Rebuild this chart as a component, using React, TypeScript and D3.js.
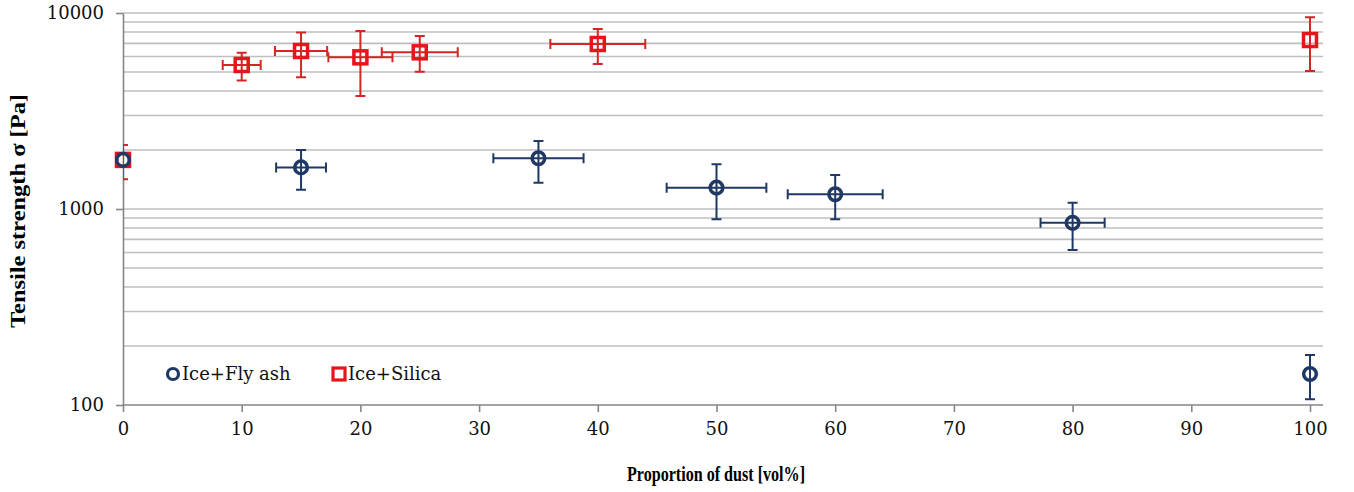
import React, { useEffect, useRef } from 'react';
import * as d3 from 'd3';

// values
const flyAshX = [0, 15, 35, 50, 60, 80, 100];
const flyAshY = [1780, 1630, 1815, 1285, 1190, 850, 144];
const flyAshXErr = [0, 2.1, 3.8, 4.2, 4.0, 2.7, 0];
const flyAshYLow = [null, 1253, 1362, 886, 886, 618, 107];
const flyAshYHigh = [null, 2000, 2223, 1690, 1490, 1077, 180];

const silicaX = [0, 10, 15, 20, 25, 40, 100];
const silicaY = [1780, 5430, 6400, 5940, 6300, 6950, 7280];
const silicaXErr = [0, 1.6, 2.2, 2.7, 3.2, 4.0, 0];
const silicaYLow = [1420, 4520, 4700, 3770, 5020, 5490, 5060];
const silicaYHigh = [2120, 6270, 7960, 8090, 7630, 8280, 9510];

const xTicks = [0, 10, 20, 30, 40, 50, 60, 70, 80, 90, 100];
const yTicks = [100, 1000, 10000];

const NAVY = '#1f3864';
const RED = '#e8141b';
const RED_BAR = '#d42626';

const App = () => {
  const svgRef = useRef(null);

  useEffect(() => {
    const svg = d3.select(svgRef.current);
    svg.selectAll('*').remove();

    const width = 1354;
    const height = 492;
    const plotLeft = 123;
    const plotRight = 1323;
    const plotTop = 13;
    const plotBottom = 405;

    const x = d3.scaleLinear().domain([0, 100]).range([plotLeft, 1310]);
    const y = d3.scaleLog().domain([100, 10000]).range([plotBottom, plotTop]);

    svg.attr('viewBox', [0, 0, width, height]);

    svg.append('defs').append('clipPath').attr('id', 'plot-clip')
      .append('rect')
      .attr('x', plotLeft).attr('y', 0)
      .attr('width', plotRight - plotLeft + 10).attr('height', height);

    // gridlines
    const grid = y.ticks().filter(v => v > 100);
    svg.append('g')
      .selectAll('line')
      .data(grid)
      .join('line')
      .attr('x1', plotLeft).attr('x2', plotRight)
      .attr('y1', d => y(d)).attr('y2', d => y(d))
      .attr('stroke', '#bfbfbf')
      .attr('stroke-width', 1.6);

    // axes
    svg.append('g')
      .attr('transform', `translate(0,${plotBottom})`)
      .call(d3.axisBottom(x).tickValues(xTicks).tickSize(7).tickSizeOuter(0).tickFormat(d3.format('d')))
      .call(g => g.select('.domain').attr('d', `M${plotLeft},0H${plotRight}`))
      .call(g => g.selectAll('.domain, .tick line').attr('stroke', '#868686').attr('stroke-width', 1.6))
      .call(g => g.selectAll('.tick text')
        .attr('y', 24)
        .attr('dy', '0.35em')
        .attr('fill', '#111')
        .attr('font-family', '"DejaVu Serif", serif')
        .attr('font-size', 18));

    svg.append('g')
      .attr('transform', `translate(${plotLeft},0)`)
      .call(d3.axisLeft(y).tickValues(yTicks).tickSize(7).tickSizeOuter(0).tickFormat(d3.format('d')))
      .call(g => g.selectAll('.domain, .tick line').attr('stroke', '#868686').attr('stroke-width', 1.6))
      .call(g => g.selectAll('.tick text')
        .attr('x', -19)
        .attr('fill', '#111')
        .attr('font-family', '"DejaVu Serif", serif')
        .attr('font-size', 18));

    // axis titles
    svg.append('text')
      .attr('transform', `translate(25,211) rotate(-90)`)
      .attr('text-anchor', 'middle')
      .attr('font-family', '"Liberation Serif", serif')
      .attr('font-weight', 'bold')
      .attr('font-size', 20)
      .attr('textLength', 234)
      .attr('lengthAdjust', 'spacingAndGlyphs')
      .text('Tensile strength σ [Pa]');

    svg.append('text')
      .attr('x', 716).attr('y', 481)
      .attr('text-anchor', 'middle')
      .attr('font-family', '"Liberation Serif", serif')
      .attr('font-weight', 'bold')
      .attr('font-size', 22)
      .attr('textLength', 178)
      .attr('lengthAdjust', 'spacingAndGlyphs')
      .text('Proportion of dust [vol%]');

    const drawBars = (xs, ys, xErr, yLow, yHigh, color) => {
      const g = svg.append('g')
        .attr('clip-path', 'url(#plot-clip)')
        .attr('stroke', color)
        .attr('stroke-width', 2)
        .attr('fill', 'none');
      const cap = 5;
      xs.forEach((xv, i) => {
        const cx = x(xv);
        const cy = y(ys[i]);
        if (yLow[i] != null) {
          const y0 = y(yLow[i]);
          const y1 = y(yHigh[i]);
          g.append('path').attr('d', `M${cx},${y0}V${y1}M${cx - cap},${y0}H${cx + cap}M${cx - cap},${y1}H${cx + cap}`);
        }
        if (xErr[i] > 0) {
          const x0 = x(xv - xErr[i]);
          const x1 = x(xv + xErr[i]);
          g.append('path').attr('d', `M${x0},${cy}H${x1}M${x0},${cy - cap}V${cy + cap}M${x1},${cy - cap}V${cy + cap}`);
        }
      });
    };

    // silica first, fly ash on top
    drawBars(silicaX, silicaY, silicaXErr, silicaYLow, silicaYHigh, RED_BAR);
    svg.append('g')
      .selectAll('rect')
      .data(silicaX)
      .join('rect')
      .attr('x', (d, i) => x(d) - 6.5)
      .attr('y', (d, i) => y(silicaY[i]) - 6.5)
      .attr('width', 13).attr('height', 13)
      .attr('fill', 'none')
      .attr('stroke', RED)
      .attr('stroke-width', 3.5);

    drawBars(flyAshX, flyAshY, flyAshXErr, flyAshYLow, flyAshYHigh, NAVY);
    svg.append('g')
      .selectAll('circle')
      .data(flyAshX)
      .join('circle')
      .attr('cx', d => x(d))
      .attr('cy', (d, i) => y(flyAshY[i]))
      .attr('r', 6.3)
      .attr('fill', 'none')
      .attr('stroke', NAVY)
      .attr('stroke-width', 3.5);

    // legend
    const legend = svg.append('g')
      .attr('font-family', '"DejaVu Serif", serif')
      .attr('font-size', 18)
      .attr('fill', '#111');
    legend.append('circle')
      .attr('cx', 173).attr('cy', 374).attr('r', 5.5)
      .attr('fill', 'none').attr('stroke', NAVY).attr('stroke-width', 3.2);
    legend.append('text').attr('x', 182).attr('y', 380).text('Ice+Fly ash');
    legend.append('rect')
      .attr('x', 333).attr('y', 368).attr('width', 12).attr('height', 12)
      .attr('fill', 'none').attr('stroke', RED).attr('stroke-width', 3.2);
    legend.append('text').attr('x', 348).attr('y', 380).text('Ice+Silica');
  }, []);

  return (
    <div style={{ position: 'absolute', left: 0, top: 0 }}>
      <svg ref={svgRef} width={1354} height={492} style={{ display: 'block', background: '#fff' }}></svg>
    </div>
  );
};

export default App;
